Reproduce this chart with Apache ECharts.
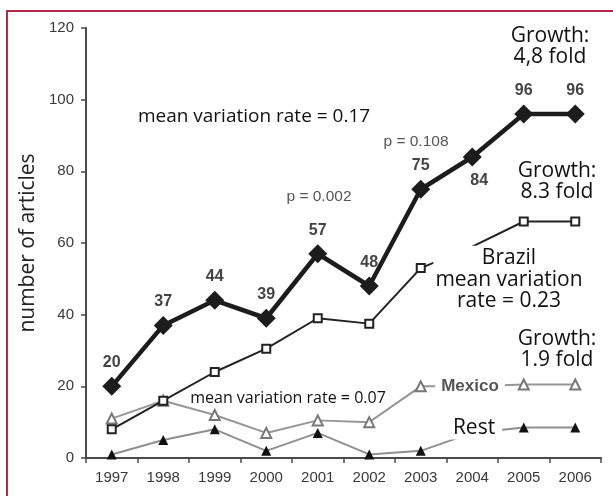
<!DOCTYPE html>
<html>
<head>
<meta charset="utf-8">
<script src="https://cdn.jsdelivr.net/npm/echarts@6/dist/echarts.min.js"></script>
<style>
  html, body { margin: 0; padding: 0; background: #fff; }
  #chart { width: 613px; height: 496px; }
</style>
</head>
<body>
<div id="chart"></div>
<script>
// data
var years = ['1997', '1998', '1999', '2000', '2001', '2002', '2003', '2004', '2005', '2006'];
var total = [20, 37, 44, 39, 57, 48, 75, 84, 96, 96];
var brazil = [8, 16, 24, 30.5, 39, 37.5, 53, 59, 66, 66];
var mexico = [11, 16, 12, 7, 10.5, 10, 20, 20, 20.5, 20.5];
var rest = [1, 5, 8, 2, 7, 1, 2, 7, 8.5, 8.5];
var yTicks = [0, 20, 40, 60, 80, 100, 120];

var chart = echarts.init(document.getElementById('chart'));

var sans = '"Open Sans", "Noto Sans", sans-serif';
var arial = '"Liberation Sans", Arial, sans-serif';

// 2004 points sit under the text labels, so no marker there
function hide2004(arr) {
    return arr.map(function (v, i) {
        return i === 7 ? { value: v, symbol: 'none' } : v;
    });
}

function note(x, y, text, font, color, extra) {
    var style = {
        text: text,
        x: x,
        y: y,
        fill: color || '#111',
        font: font,
        align: 'center',
        verticalAlign: 'middle'
    };
    if (extra) {
        for (var k in extra) style[k] = extra[k];
    }
    return { type: 'text', z: 100, style: style };
}

var option = {
    animation: false,
    backgroundColor: '#fff',
    grid: { left: 86, right: 12, top: 28, bottom: 38 },
    xAxis: {
        type: 'category',
        data: years,
        boundaryGap: true,
        axisLine: { lineStyle: { color: '#4a4a4a', width: 2 } },
        axisTick: { show: true, length: 5, lineStyle: { color: '#4a4a4a', width: 1.5 } },
        axisLabel: { color: '#383838', fontFamily: arial, fontSize: 15, margin: 12 },
        splitLine: { show: false }
    },
    yAxis: {
        type: 'value',
        min: yTicks[0],
        max: yTicks[yTicks.length - 1],
        interval: 20,
        name: 'number of articles',
        nameLocation: 'middle',
        nameGap: 37,
        nameTextStyle: { fontFamily: sans, fontSize: 21, color: '#222' },
        axisLine: { show: true, lineStyle: { color: '#4a4a4a', width: 2 } },
        axisTick: { show: true, length: 5, lineStyle: { color: '#4a4a4a', width: 1.5 } },
        axisLabel: { color: '#383838', fontFamily: arial, fontSize: 15, margin: 12 },
        splitLine: { show: false }
    },
    series: [
        {
            name: 'Rest',
            type: 'line',
            data: hide2004(rest),
            symbol: 'triangle',
            symbolSize: 10,
            itemStyle: { color: '#111' },
            lineStyle: { color: '#8f8f8f', width: 2 },
            z: 2
        },
        {
            name: 'Mexico',
            type: 'line',
            data: hide2004(mexico),
            symbol: 'emptyTriangle',
            symbolSize: 10,
            itemStyle: { color: '#777', borderWidth: 1.5 },
            lineStyle: { color: '#969696', width: 2 },
            z: 3
        },
        {
            name: 'Brazil',
            type: 'line',
            data: hide2004(brazil),
            symbol: 'emptyRect',
            symbolSize: 8,
            itemStyle: { color: '#222', borderWidth: 1.5 },
            lineStyle: { color: '#222', width: 2 },
            z: 4
        },
        {
            name: 'Total',
            type: 'line',
            data: total.map(function (v, i) {
                if (i === 7) {
                    return { value: v, label: { position: 'bottom', offset: [7, 0] } };
                }
                return v;
            }),
            symbol: 'diamond',
            symbolSize: 19,
            itemStyle: { color: '#1c1c1c' },
            lineStyle: { color: '#1c1c1c', width: 4.5 },
            label: {
                show: true,
                position: 'top',
                distance: 6,
                color: '#444',
                fontFamily: arial,
                fontWeight: 'bold',
                fontSize: 16
            },
            z: 5
        }
    ],
    graphic: [
        {
            type: 'rect',
            z: 1,
            shape: { x: 7, y: 11, width: 800, height: 800 },
            style: { fill: 'none', stroke: '#b42a46', lineWidth: 2 }
        },
        note(254, 117, 'mean variation rate = 0.17', '19px ' + sans, '#111'),
        note(319, 197, 'p = 0.002', '15.5px ' + arial, '#555'),
        note(416, 142, 'p = 0.108', '15.5px ' + arial, '#555'),
        note(550, 47, 'Growth:\n4,8 fold', '21px ' + sans, '#111', { lineHeight: 21 }),
        note(557, 182, 'Growth:\n8.3 fold', '21px ' + sans, '#111', { lineHeight: 21 }),
        note(509, 280, 'Brazil\nmean variation\nrate = 0.23', '21px ' + sans, '#111',
            { lineHeight: 21.5, backgroundColor: '#fff', padding: [2, 2, 2, 2] }),
        note(557, 350, 'Growth:\n1.9 fold', '21px ' + sans, '#111', { lineHeight: 21 }),
        note(288, 398, 'mean variation rate = 0.07', '16px ' + sans, '#111'),
        note(470, 386, 'Mexico', 'bold 17px ' + arial, '#555',
            { backgroundColor: '#fff', padding: [2, 6, 2, 6] }),
        note(474, 428, 'Rest', '21px ' + sans, '#111',
            { backgroundColor: '#fff', padding: [1, 7, 1, 7] })
    ]
};

chart.setOption(option);
</script>
</body>
</html>
